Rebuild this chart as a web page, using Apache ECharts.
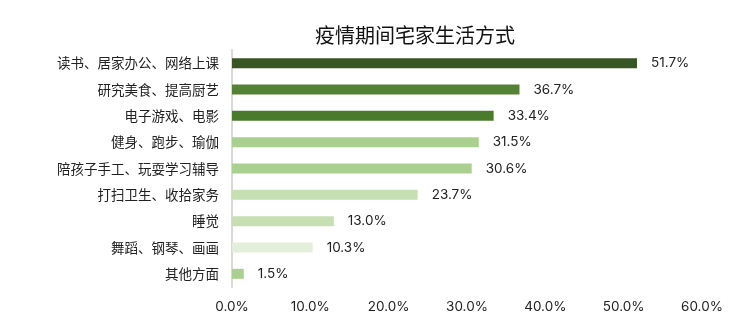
<!DOCTYPE html>
<html><head><meta charset="utf-8">
<script src="https://cdn.jsdelivr.net/npm/echarts@6/dist/echarts.min.js"></script>
<style>html,body{margin:0;padding:0;background:#fff}#c{width:752px;height:324px}</style>
</head><body><div id="c"></div>
<script>
const categories = ["读书、居家办公、网络上课","研究美食、提高厨艺","电子游戏、电影","健身、跑步、瑜伽","陪孩子手工、玩耍学习辅导","打扫卫生、收拾家务","睡觉","舞蹈、钢琴、画画","其他方面"];
const values = [51.7, 36.7, 33.4, 31.5, 30.6, 23.7, 13.0, 10.3, 1.5];
const xTicks = [0, 10, 20, 30, 40, 50, 60];
const barColors = ["#375623","#548235","#4a7a2c","#a9d08e","#a9d08e","#c6e0b4","#c6e0b4","#e2efda","#a9d08e"];

const chart = echarts.init(document.getElementById('c'));
const cjk = '"Noto Sans CJK SC", sans-serif';
const num = 'Inter, "Noto Sans", sans-serif';
chart.setOption({
  animation: false,
  title: { text: "疫情期间宅家生活方式", left: 410, top: 20, textAlign: 'center',
    textStyle: { fontFamily: cjk, fontSize: 20, fontWeight: 'normal', color: '#111' } },
  grid: { left: 232, right: 50, top: 50, bottom: 37, containLabel: false },
  xAxis: { type: 'value', min: xTicks[0], max: xTicks[xTicks.length-1], interval: 10,
    axisLine: { show: false }, axisTick: { show: false }, splitLine: { show: false },
    axisLabel: { formatter: v => v.toFixed(1) + '%', fontFamily: num, fontSize: 13.5, color: '#222', margin: 13 } },
  yAxis: { type: 'category', data: categories, inverse: true,
    axisLine: { show: true, lineStyle: { color: '#d9d9d9', width: 2 } },
    axisTick: { show: false },
    axisLabel: { fontFamily: cjk, fontSize: 13.5, color: '#222', margin: 13 } },
  series: [{ type: 'bar', data: values, barWidth: 10,
    itemStyle: { color: p => barColors[p.dataIndex] },
    label: { show: true, position: 'right', distance: 14, formatter: p => p.value.toFixed(1) + '%',
      fontFamily: num, fontSize: 13.5, color: '#222' } }]
});
</script></body></html>
